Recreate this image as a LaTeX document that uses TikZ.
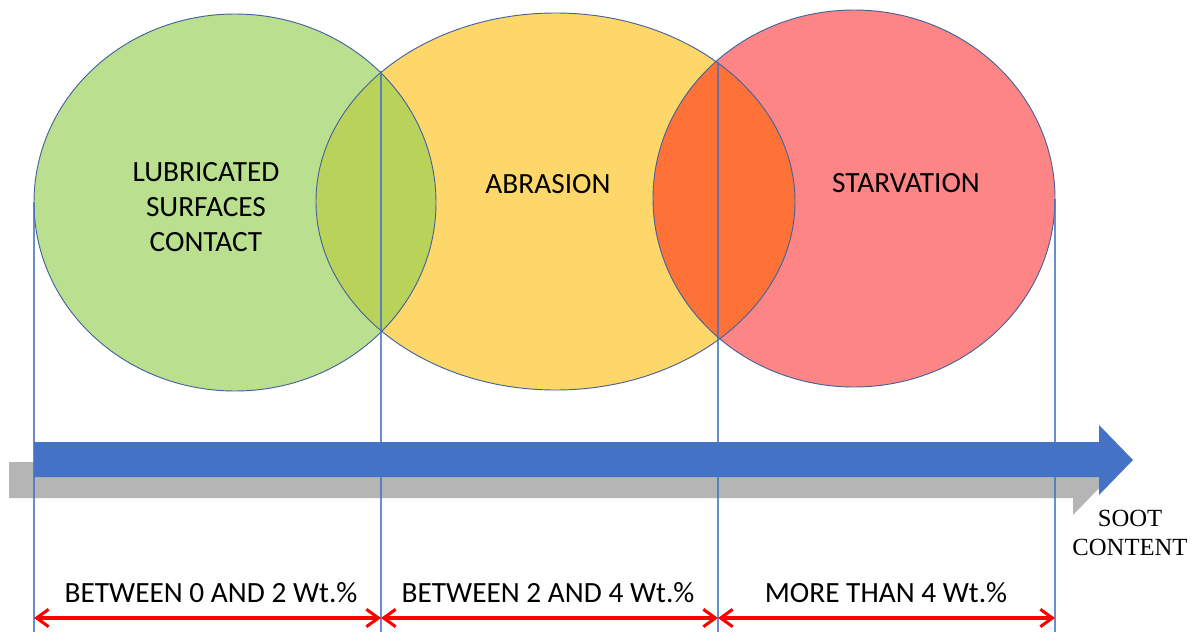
\documentclass[tikz,border=0pt]{standalone}
\usepackage{fontspec}
\setmainfont{Carlito}
\newfontfamily\timesfont{Liberation Serif}
\usetikzlibrary{arrows.meta}
\definecolor{cgreen}{HTML}{BAE08F}
\definecolor{cyellow}{HTML}{FDD76A}
\definecolor{cred}{HTML}{FE8585}
\definecolor{cgy}{HTML}{B9D35A}
\definecolor{cyr}{HTML}{FE7137}
\definecolor{cedge}{HTML}{44639C}
\definecolor{cline}{HTML}{4472C4}
\definecolor{cblue}{HTML}{4472C4}
\definecolor{cgray}{HTML}{B5B5B5}
\definecolor{cdred}{HTML}{FF0000}
\tikzset{
  txtlabel/.style={font=\fontsize{22}{26.25}\selectfont, text=black, inner sep=0pt, align=center},
  sootlabel/.style={font=\timesfont\fontsize{18.5}{22.5}\selectfont, inner sep=0pt, align=center},
  dividerline/.style={draw=cline, line width=0.8pt, opacity=0.8},
  ringedge/.style={draw=cedge, line width=0.7pt},
  spanarrow/.style={draw=cdred, line width=2.5pt, {Straight Barb[length=9pt,width=13pt,line width=2.3pt]}-{Straight Barb[length=9pt,width=13pt,line width=2.3pt]}}
}
\begin{document}
\begin{tikzpicture}[x=0.75pt,y=-0.75pt]
\useasboundingbox (0,0) rectangle (1192,635);
% ellipses fills
\fill[cgreen] (235,202.5) ellipse [x radius=201, y radius=188.5];
\fill[cyellow] (555.5,201.5) ellipse [x radius=239.5, y radius=188.5];
\fill[cred] (854,198.5) ellipse [x radius=201, y radius=188.5];
\begin{scope}
  \clip (235,202.5) ellipse [x radius=201, y radius=188.5];
  \fill[cgy] (555.5,201.5) ellipse [x radius=239.5, y radius=188.5];
\end{scope}
\begin{scope}
  \clip (555.5,201.5) ellipse [x radius=239.5, y radius=188.5];
  \fill[cyr] (854,198.5) ellipse [x radius=201, y radius=188.5];
\end{scope}
% borders
\draw[ringedge] (235,202.5) ellipse [x radius=201, y radius=188.5];
\draw[ringedge] (555.5,201.5) ellipse [x radius=239.5, y radius=188.5];
\draw[ringedge] (854,198.5) ellipse [x radius=201, y radius=188.5];
% divider coordinates
\coordinate (d1t) at (34,202);
\coordinate (d2t) at (381,71);
\coordinate (d3t) at (718,62);
\coordinate (d4t) at (1055,199);
\coordinate (d1b) at (34,632);
\coordinate (d2b) at (381,632);
\coordinate (d3b) at (718,632);
\coordinate (d4b) at (1055,632);
% arrows
\fill[cgray] (9,462) -- (1073,462) -- (1073,445) -- (1107,480) -- (1073,515) -- (1073,498) -- (9,498) -- cycle;
\fill[cblue] (34,442) -- (1099,442) -- (1099,425) -- (1133,460) -- (1099,495) -- (1099,477) -- (34,477) -- cycle;
% dividers
\draw[dividerline] (d1t) -- (d1b);
\draw[dividerline] (d2t) -- (d2b);
\draw[dividerline] (d3t) -- (d3b);
\draw[dividerline] (d4t) -- (d4b);
% labels
\node[txtlabel] (lub) at (206,207) {LUBRICATED\\SURFACES\\CONTACT};
\node[txtlabel] (abr) at (548,184) {ABRASION};
\node[txtlabel] (sta) at (906,183) {STARVATION};
\node[sootlabel] (soo) at (1130,533) {SOOT\\[-1pt]CONTENT};
% ranges
\coordinate (r1) at (34,618);
\coordinate (r2) at (381,618);
\coordinate (r3) at (718,618);
\coordinate (r4) at (1055,618);
\draw[spanarrow] (r1) -- (r2);
\draw[spanarrow] (r2) -- (r3);
\draw[spanarrow] (r3) -- (r4);
\node[txtlabel] (t1) at (211,593) {BETWEEN 0 AND 2 Wt.\%};
\node[txtlabel] (t2) at (548,593) {BETWEEN 2 AND 4 Wt.\%};
\node[txtlabel] (t3) at (886,593) {MORE THAN 4 Wt.\%};
\end{tikzpicture}
\end{document}
